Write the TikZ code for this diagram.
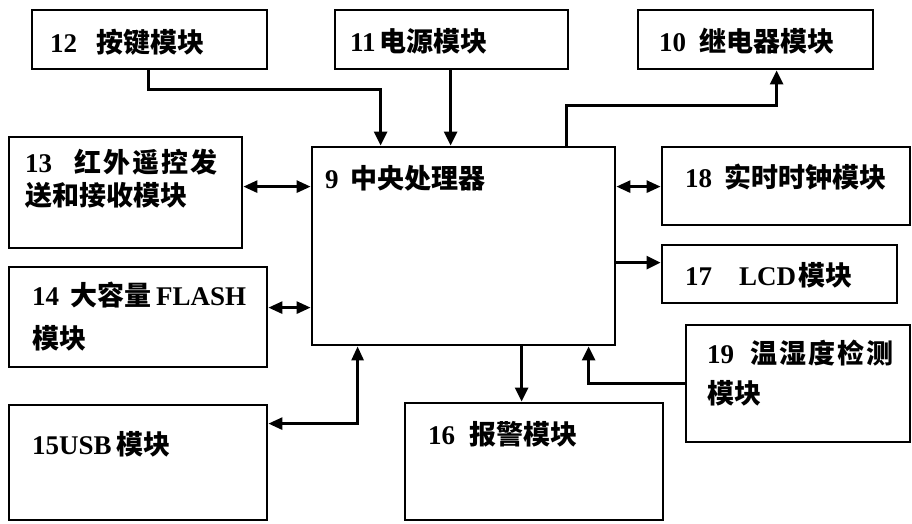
\documentclass[tikz,border=0pt]{standalone}
\usepackage{fontspec}
\setmainfont{Liberation Serif}
\newfontfamily\zhfont{Noto Sans CJK SC}
\newcommand{\Z}[1]{{\zhfont\bfseries\fontsize{27}{30}\selectfont #1}}
\usetikzlibrary{arrows.meta}
\begin{document}
\begin{tikzpicture}[x=1pt,y=-1pt,
  box/.style={draw, line width=2.8pt, inner sep=0pt},
  lab/.style={anchor=base west, inner sep=0pt, font=\bfseries\fontsize{27}{30}\selectfont},
  conn/.style={line width=2.7pt},
  arr/.style={conn, -{Triangle[length=14pt,width=13pt]}},
  dbl/.style={conn, {Triangle[length=14pt,width=12pt]}-{Triangle[length=14pt,width=12pt]}}]
\useasboundingbox (0,0) rectangle (912,523);
% boxes
\node[box, minimum width=235pt, minimum height=59pt] (b12) at (149.5,39.5) {};
\node[box, minimum width=233pt, minimum height=59pt] (b11) at (451.5,39.5) {};
\node[box, minimum width=235pt, minimum height=59pt] (b10) at (755.5,39.5) {};
\node[box, minimum width=233pt, minimum height=111pt] (b13) at (125.5,192.5) {};
\node[box, minimum width=303pt, minimum height=198pt] (b9) at (463.5,246) {};
\node[box, minimum width=248pt, minimum height=78pt] (b18) at (786,186) {};
\node[box, minimum width=235pt, minimum height=58pt] (b17) at (779.5,274) {};
\node[box, minimum width=258pt, minimum height=100pt] (b14) at (138,317) {};
\node[box, minimum width=224pt, minimum height=117pt] (b19) at (798,383.5) {};
\node[box, minimum width=258pt, minimum height=115pt] (b15) at (138,462.5) {};
\node[box, minimum width=258pt, minimum height=117pt] (b16) at (534,461.5) {};
% labels
\node[lab] (t12) at (50,52) {12\hspace{19pt}\Z{按键模块}};
\node[lab] (t11) at (350,51) {11\hspace{4pt}\Z{电源模块}};
\node[lab] (t10) at (659,51) {10\hspace{13pt}\Z{继电器模块}};
\node[lab] (t9) at (325,188) {9\hspace{12pt}\Z{中央处理器}};
\node[lab] (t13a) at (25,172) {13\hspace{22pt}\Z{红\hspace{2pt}外\hspace{2pt}遥\hspace{2pt}控\hspace{2pt}发}};
\node[lab] (t13b) at (25,205) {\Z{送和接收模块}};
\node[lab] (t18) at (685,187) {18\hspace{12pt}\Z{实时时钟模块}};
\node[lab] (t17) at (685,285) {17\hspace{27pt}LCD\hspace{2pt}\Z{模块}};
\node[lab] (t14a) at (32,305) {14\hspace{11pt}\Z{大容量}\hspace{5pt}FLASH};
\node[lab] (t14b) at (32,348) {\Z{模块}};
\node[lab] (t15) at (32,454) {15USB\hspace{5pt}\Z{模块}};
\node[lab] (t16) at (428,444) {16\hspace{14pt}\Z{报警模块}};
\node[lab] (t19a) at (707,363) {19\hspace{16pt}\Z{温\hspace{2pt}湿\hspace{2pt}度\hspace{2pt}检\hspace{2pt}测}};
\node[lab] (t19b) at (707,403) {\Z{模块}};
% connector points
\coordinate (p13) at ([yshift=-41pt]b9.north west);
\coordinate (p18) at ([yshift=-41pt]b9.north east);
\coordinate (p17) at ([yshift=-117pt]b9.north east);
\coordinate (p14) at ([yshift=-162pt]b9.north west);
\coordinate (p15) at ([xshift=47pt]b9.south west);
\coordinate (p16) at ([xshift=211pt]b9.south west);
\coordinate (p19) at ([xshift=278pt]b9.south west);
% connectors
\draw[arr] ([xshift=118pt]b12.south west) -- ++(0,19) -| ([xshift=70pt]b9.north west);
\draw[arr] ([xshift=117pt]b11.south west) -- ([xshift=140pt]b9.north west);
\draw[arr] ([xshift=256pt]b9.north west) -- ++(0,-40) -| ([xshift=140pt]b10.south west);
\draw[dbl] (b13.east |- p13) -- (p13);
\draw[dbl] (p18) -- (b18.west |- p18);
\draw[arr] (p17) -- (b17.west |- p17);
\draw[dbl] (b14.east |- p14) -- (p14);
\draw[dbl] (p15) |- ([yshift=-20pt]b15.north east);
\draw[arr] (p16) -- (b16.north -| p16);
\draw[arr] (b19.west) -| (p19);
\end{tikzpicture}
\end{document}
